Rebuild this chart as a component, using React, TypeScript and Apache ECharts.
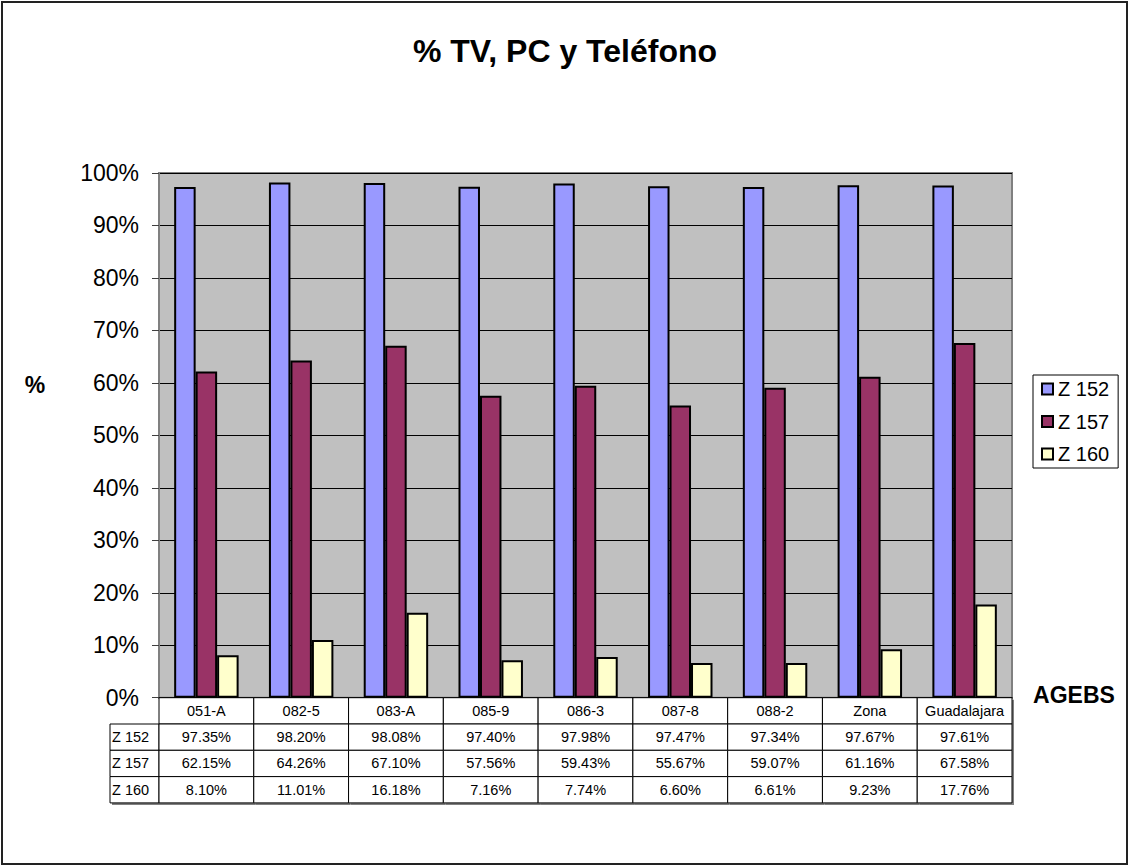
import React, { useEffect, useRef } from "react";
import * as echarts from "echarts";

const categories = ["051-A", "082-5", "083-A", "085-9", "086-3", "087-8", "088-2", "Zona", "Guadalajara"];
const seriesNames = ["Z 152", "Z 157", "Z 160"];
const z152 = [97.35, 98.2, 98.08, 97.4, 97.98, 97.47, 97.34, 97.67, 97.61];
const z157 = [62.15, 64.26, 67.1, 57.56, 59.43, 55.67, 59.07, 61.16, 67.58];
const z160 = [8.1, 11.01, 16.18, 7.16, 7.74, 6.6, 6.61, 9.23, 17.76];
const seriesValues = [z152, z157, z160];
const seriesColors = ["#9999FF", "#993366", "#FFFFCC"];
const titleText = "% TV, PC y Teléfono";
const yAxisTitle = "%";
const xAxisTitle = "AGEBS";

const FONT = 'Arial, "Liberation Sans", sans-serif';

export default function App() {
  const ref = useRef<HTMLDivElement>(null);

  useEffect(() => {
    document.body.style.margin = "0";
    if (!ref.current) return;
    const chart = echarts.init(ref.current, null, { renderer: "svg" });

    const rowH = 26.3;
    const labelColW = 49;
    const tableFont = 14.5;

    const renderTable = (params: any, api: any) => {
      const i = api.value(0);
      const base = api.coord([i, 0]);
      const bw = api.size([1, 0])[0];
      const x0 = base[0] - bw / 2;
      const y0 = base[1];
      const children: any[] = [];
      const texts = [categories[i], ...seriesValues.map((arr) => arr[i].toFixed(2) + "%")];
      if (i === 0) {
        children.push({
          type: "rect",
          shape: { x: x0 - labelColW + 2, y: y0 + rowH + 2, width: labelColW, height: rowH * 3 },
          style: { fill: "#808080" },
        });
      }
      children.push({
        type: "rect",
        shape: { x: x0 + 2, y: y0 + 2, width: bw, height: rowH * 4 },
        style: { fill: "#808080" },
      });
      if (i === 0) {
        seriesNames.forEach((name, r) => {
          const y = y0 + (r + 1) * rowH;
          children.push({
            type: "rect",
            shape: { x: x0 - labelColW, y, width: labelColW, height: rowH },
            style: { fill: "#fff", stroke: "#000", lineWidth: 1 },
          });
          children.push({
            type: "text",
            style: {
              x: x0 - labelColW + 2,
              y: y + rowH / 2,
              text: name,
              align: "left",
              verticalAlign: "middle",
              fontSize: tableFont,
              fontFamily: FONT,
              fill: "#000",
            },
          });
        });
      }
      texts.forEach((t, r) => {
        const y = y0 + r * rowH;
        children.push({
          type: "rect",
          shape: { x: x0, y, width: bw, height: rowH },
          style: { fill: "#fff", stroke: "#000", lineWidth: 1 },
        });
        children.push({
          type: "text",
          style: {
            x: x0 + bw / 2,
            y: y + rowH / 2,
            text: t,
            align: "center",
            verticalAlign: "middle",
            fontSize: tableFont,
            fontFamily: FONT,
            fill: "#000",
          },
        });
      });
      return { type: "group", children };
    };

    const option: any = {
      animation: false,
      backgroundColor: "#fff",
      textStyle: { fontFamily: FONT },
      title: {
        text: titleText,
        left: "center",
        top: 30,
        textStyle: { fontSize: 32, fontWeight: "bold", color: "#000", fontFamily: FONT },
      },
      legend: {
        orient: "vertical",
        left: 1033,
        top: 375,
        data: seriesNames,
        icon: "rect",
        itemWidth: 11,
        itemHeight: 11,
        itemGap: 12.5,
        padding: [4, 9, 4, 8],
        borderColor: "#000",
        borderWidth: 1,
        backgroundColor: "#fff",
        itemStyle: { borderColor: "#000", borderWidth: 2 },
        textStyle: { fontSize: 20, color: "#000", fontFamily: FONT },
      },
      grid: {
        left: 159,
        top: 173,
        width: 853,
        height: 524.7,
        show: true,
        backgroundColor: "#C0C0C0",
        borderColor: "#808080",
        borderWidth: 2,
      },
      xAxis: {
        type: "category",
        data: categories,
        axisLabel: { show: false },
        axisTick: { show: false },
        axisLine: { show: true, lineStyle: { color: "#000", width: 1 } },
      },
      yAxis: {
        type: "value",
        min: 0,
        max: 100,
        interval: 10,
        axisLabel: {
          formatter: "{value}%",
          fontSize: 23,
          color: "#000",
          fontFamily: FONT,
          margin: 20,
        },
        axisTick: { show: true, length: 7, lineStyle: { color: "#404040", width: 1 } },
        axisLine: { show: true, lineStyle: { color: "#808080", width: 2 } },
        splitLine: { show: true, lineStyle: { color: "#000", width: 1 } },
      },
      series: [
        ...seriesNames.map((name, k) => ({
          type: "bar",
          name,
          data: seriesValues[k],
          barGap: "0%",
          barCategoryGap: "32%",
          itemStyle: { color: seriesColors[k], borderColor: "#000", borderWidth: 2 },
        })),
        {
          type: "custom",
          name: "table",
          clip: false,
          silent: true,
          renderItem: renderTable,
          encode: { x: 0, y: 1 },
          data: categories.map((_, i) => [i, z152[i]]),
          z: 1,
        },
      ],
      graphic: [
        {
          type: "rect",
          shape: { x: 2, y: 2, width: 1125, height: 862 },
          style: { fill: "none", stroke: "#222", lineWidth: 2 },
          silent: true,
        },
        {
          type: "text",
          x: 35,
          y: 385,
          style: {
            text: yAxisTitle,
            align: "center",
            verticalAlign: "middle",
            fontSize: 23,
            fontWeight: "bold",
            fontFamily: FONT,
            fill: "#000",
          },
        },
        {
          type: "text",
          x: 1074,
          y: 695,
          style: {
            text: xAxisTitle,
            align: "center",
            verticalAlign: "middle",
            fontSize: 23,
            fontWeight: "bold",
            fontFamily: FONT,
            fill: "#000",
          },
        },
      ],
    };

    chart.setOption(option);
    return () => chart.dispose();
  }, []);

  return <div ref={ref} style={{ width: 1130, height: 867 }} />;
}
